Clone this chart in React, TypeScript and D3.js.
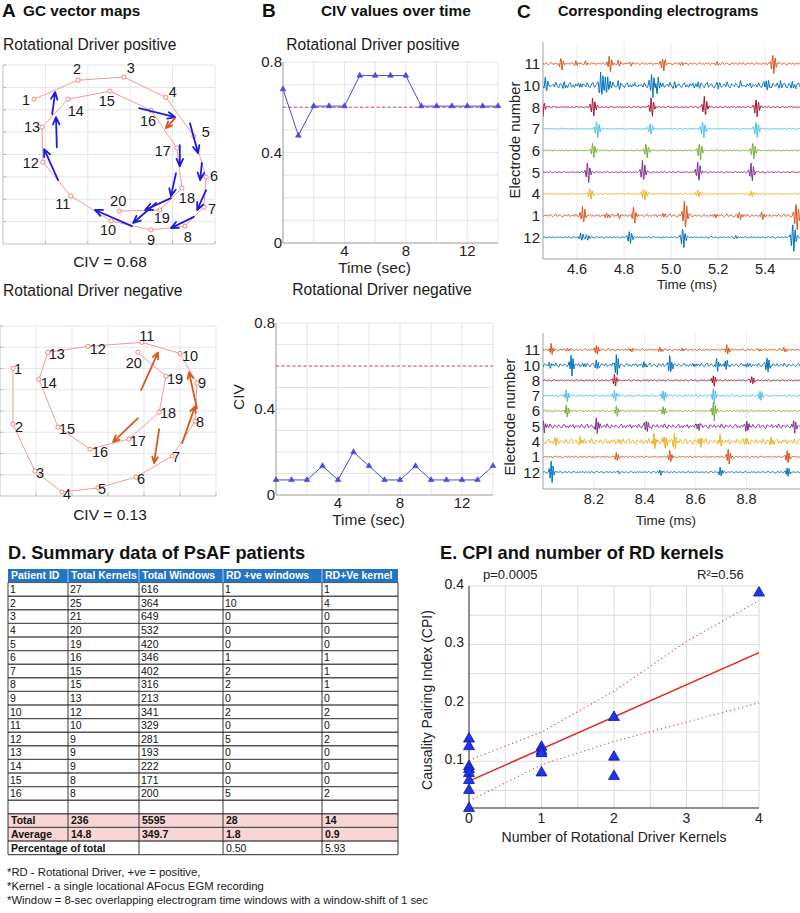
import React from 'react';
import * as d3 from 'd3';

const FONT = '"Liberation Sans", Arial, Helvetica, sans-serif';

/* ---------------- Panel A : GC vector maps ---------------- */
const electrodeIds = d3.range(1, 21);
// Rotational Driver positive – electrode positions (grid units)
const posX = [0.73, 1.77, 2.85, 3.84, 4.5, 4.79, 4.74, 4.29, 3.49, 2.55, 1.6, 0.94, 0.92, 1.53, 2.52, 3.49, 4.1, 4.22, 3.7, 2.74];
const posY = [6.47, 7.32, 7.46, 6.56, 4.82, 2.99, 1.65, 0.8, 0.63, 1.03, 2.14, 3.66, 5.22, 6.47, 6.83, 5.98, 4.29, 2.5, 1.52, 1.47];
// GC vectors [x1, y1, x2, y2]
const posBlueVectors = [
  [1.16, 5.8, 1.23, 6.79], [1.27, 4.33, 1.25, 5.67], [1.3, 2.86, 0.97, 4.24], [3.21, 6.07, 4.06, 5.67],
  [4.41, 5.4, 4.6, 4.06], [4.17, 4.42, 4.17, 3.48], [4.69, 3.62, 4.65, 2.86], [4.08, 3.17, 3.96, 2.14],
  [3.96, 2.05, 3.35, 1.52], [3.61, 1.83, 3.07, 0.94], [3.04, 0.8, 2.17, 1.52], [4.79, 2.41, 4.58, 1.52],
  [4.5, 1.21, 3.96, 0.71],
];
const posOrangeVectors = [[4.06, 5.63, 3.84, 5.18]];
// Rotational Driver negative
const negX = [0.36, 0.36, 0.97, 1.72, 2.72, 3.78, 4.78, 5.42, 5.47, 5.0, 3.94, 2.44, 1.33, 1.08, 1.61, 2.5, 3.58, 4.42, 4.61, 3.83];
const negY = [6.01, 3.38, 1.17, 0.19, 0.38, 0.89, 1.88, 3.52, 5.31, 6.71, 7.23, 7.04, 6.76, 5.49, 3.24, 2.21, 2.68, 3.94, 5.63, 6.76];
const negOrangeVectors = [
  [3.92, 4.98, 4.39, 6.76], [3.83, 3.66, 3.14, 2.54], [4.42, 3.15, 4.28, 1.55],
  [5.06, 2.49, 5.42, 4.23], [5.47, 4.13, 5.25, 5.82],
];
const civPosText = 'CIV = 0.68';
const civNegText = 'CIV = 0.13';

// label placement (px offsets from the electrode marker)
const posLabelOff = [[-8, 1], [-1, -11], [7, -9], [7, -5], [12, -4], [8, -1], [8, 2], [3, 11], [0, 10], [-3, 9], [-8, 8], [-12, 1], [-10, 0], [8, 12], [-3, 10], [-3, 11], [-14, 3], [5, 10], [2, 8], [-1, -10]];
const negLabelOff = [[5, 0], [6, 3], [5, 2], [5, 2], [4, 1], [5, 2], [4, 1], [5, 1], [5, 0], [10, 2], [5, -7], [10, 2], [9, 1], [10, 3], [9, 2], [10, 3], [9, 2], [9, 1], [9, 2], [-4, 10]];

/* ---------------- Panel B : CIV over time ---------------- */
const timeSec = d3.range(0, 15);
const civPositive = [0.68, 0.475, 0.605, 0.605, 0.605, 0.74, 0.74, 0.74, 0.74, 0.605, 0.605, 0.605, 0.605, 0.605, 0.605];
const civNegative = [0.07, 0.07, 0.07, 0.135, 0.07, 0.2, 0.135, 0.07, 0.07, 0.135, 0.07, 0.07, 0.07, 0.07, 0.135];
const civThreshold = 0.6;
const civYTicks = [0, 0.4, 0.8];
const civXTicks = [4, 8, 12];

/* ---------------- Panel C : electrograms ---------------- */
const electrodes = ['11', '10', '8', '7', '6', '5', '4', '1', '12'];
const egmColors = ['#D95319', '#0072BD', '#A2142F', '#4DBEEE', '#77AC30', '#7E2F8E', '#EDB120', '#D95319', '#0072BD'];
// deflection events [time, amplitude] per electrode (top window)
const egmTopEvents: number[][][] = [
  [[4.536, 0.3], [4.6, 0.12], [4.64, 0.1], [4.742, 0.4], [4.78, 0.15], [4.83, 0.1], [4.969, 0.35], [5.05, 0.1], [5.2, 0.08], [5.437, 0.55]],
  [[4.47, 0.35], [4.55, 0.15], [4.62, 0.15], [4.705, 0.7], [4.73, -0.5], [4.78, 0.2], [4.85, 0.15], [4.922, 0.7], [4.945, -0.4], [5.02, 0.15], [5.12, 0.15], [5.2, 0.15], [5.3, 0.15], [5.409, 0.3], [5.47, 0.2], [5.52, 0.2]],
  [[4.455, 0.4], [4.671, 0.5], [4.92, 0.5], [5.146, 0.5], [5.366, 0.5]],
  [[4.688, 0.45], [4.915, 0.3], [5.139, 0.45], [5.366, 0.45]],
  [[4.671, 0.4], [4.898, 0.35], [5.125, 0.45], [5.352, 0.45]],
  [[4.649, 0.5], [4.883, 0.55], [5.118, 0.5], [5.345, 0.5]],
  [[4.659, 0.3], [4.888, 0.3], [5.118, 0.2], [5.345, 0.15]],
  [[4.628, 0.45], [4.73, 0.15], [4.78, 0.12], [4.845, 0.4], [4.97, 0.15], [5.061, 0.75], [5.19, 0.15], [5.295, 0.2], [5.39, 0.15], [5.536, 0.75]],
  [[4.62, 0.2], [4.645, 0.15], [4.827, 0.35], [5.054, 0.5], [5.28, 0.08], [5.522, 0.75]],
];
const egmTopNoise = [0.06, 0.15, 0.04, 0.03, 0.03, 0.04, 0.04, 0.07, 0.04];
const egmBottomEvents: number[][][] = [
  [[8.036, 0.45], [8.1, 0.15], [8.213, 0.35], [8.35, 0.12], [8.463, 0.2], [8.55, 0.12], [8.726, 0.35], [8.85, 0.12], [8.95, 0.15]],
  [[8.029, 0.25], [8.114, 0.7], [8.16, 0.2], [8.213, 0.35], [8.292, 0.8], [8.4, 0.2], [8.502, 0.8], [8.6, 0.15], [8.686, 0.5], [8.72, 0.3], [8.8, 0.2], [8.884, 0.7]],
  [[8.285, 0.55], [8.673, 0.4], [8.824, 0.4]],
  [[8.095, 0.45], [8.285, 0.5], [8.476, 0.6], [8.673, 0.6], [8.857, 0.4]],
  [[8.095, 0.45], [8.292, 0.35], [8.476, 0.45], [8.673, 0.7]],
  [[8.005, 0.45], [8.213, 0.55], [8.41, 0.45], [8.614, 0.3], [8.805, 0.5], [8.989, 0.5]],
  [[8.05, 0.3], [8.15, 0.25], [8.3, 0.2], [8.44, 0.6], [8.48, 0.6], [8.52, 0.5], [8.621, 0.35], [8.7, 0.4], [8.8, 0.3], [8.9, 0.3]],
  [[8.292, 0.3], [8.502, 0.55], [8.732, 0.7], [8.963, 0.45]],
  [[8.036, 0.9], [8.3, 0.12], [8.463, 0.25], [8.7, 0.35], [8.963, 0.35]],
];
const egmBottomNoise = [0.08, 0.14, 0.06, 0.08, 0.07, 0.16, 0.2, 0.06, 0.07];
const egmTopTicks = [4.6, 4.8, 5.0, 5.2, 5.4];
const egmBottomTicks = [8.2, 8.4, 8.6, 8.8];
// baseline-noise texture and deflection shape
const NOISE = [0.3, -0.5, 0.8, -0.2, -0.7, 0.4, 0.9, -0.6, 0.1, 0.5, -0.4, -0.9, 0.6, 0.2, -0.3, 0.7, -0.6, 0.0, 0.4, -0.5, 1.0, -0.3, -0.8, 0.5, 0.1, -0.4, 0.6, -0.1, -0.7, 0.3, 0.8, -0.5, 0.2, -0.6, 0.5, -0.2, 0.7, -0.8, 0.3, -0.1];
const SPIKE = [0, 0.25, -0.55, 1, -1, 0.6, -0.3, 0.12, 0];

/* ---------------- Panel D : table ---------------- */
const tableHeader = ['Patient ID', 'Total Kernels', 'Total Windows', 'RD +ve windows', 'RD+Ve kernel'];
const patientIds = ['1', '2', '3', '4', '5', '6', '7', '8', '9', '10', '11', '12', '13', '14', '15', '16'];
const totalKernels = [27, 25, 21, 20, 19, 16, 15, 15, 13, 12, 10, 9, 9, 9, 8, 8];
const totalWindows = [616, 364, 649, 532, 420, 346, 402, 316, 213, 341, 329, 281, 193, 222, 171, 200];
const rdWindows = [1, 10, 0, 0, 0, 1, 2, 2, 0, 2, 0, 5, 0, 0, 0, 5];
const rdKernels = [1, 4, 0, 0, 0, 1, 1, 1, 0, 2, 0, 2, 0, 0, 0, 2];
const totalRow = ['Total', '236', '5595', '28', '14'];
const averageRow = ['Average', '14.8', '349.7', '1.8', '0.9'];
const percentRow = ['Percentage of total', '', '0.50', '5.93'];
const footnotes = [
  '*RD - Rotational Driver, +ve = positive,',
  '*Kernel - a single locational AFocus  EGM recording',
  '*Window = 8-sec overlapping electrogram time windows with a window-shift of 1 sec',
];

/* ---------------- Panel E : CPI vs RD kernels ---------------- */
const rdKernelCount = [0, 0, 0, 0, 0, 0, 0, 0, 1, 1, 1, 1, 2, 2, 2, 4];
const cpiValues = [0.14, 0.127, 0.093, 0.088, 0.081, 0.069, 0.052, 0.021, 0.126, 0.119, 0.115, 0.082, 0.177, 0.109, 0.076, 0.39];
const fitX = [0, 4];
const fitY = [0.066, 0.286];
const ciX = [0, 1, 2, 3, 4];
const ciUpper = [0.102, 0.15, 0.22, 0.305, 0.375];
const ciLower = [0.032, 0.094, 0.134, 0.167, 0.2];
const cpiYTicks = [0.1, 0.2, 0.3, 0.4];
const cpiXTicks = [0, 1, 2, 3, 4];

/* ================= components ================= */
function Arrow({ x1, y1, x2, y2, color, width, head }: any) {
  const a = Math.atan2(y2 - y1, x2 - x1);
  const a1 = a + Math.PI - 0.42, a2 = a + Math.PI + 0.42;
  const d = `M${x1},${y1}L${x2},${y2}M${x2 + head * Math.cos(a1)},${y2 + head * Math.sin(a1)}L${x2},${y2}L${x2 + head * Math.cos(a2)},${y2 + head * Math.sin(a2)}`;
  return <path d={d} stroke={color} strokeWidth={width} fill="none" strokeLinecap="round" strokeLinejoin="round" />;
}

function GCMap({ xs, ys, offs, xScale, yScale, nx, ny, blue, orange, caption, captionY }: any) {
  const [x0, x1] = xScale.range();
  const [yb, yt] = yScale.range();
  const line = d3.line<number>().x((_, i) => xScale(xs[i])).y((_, i) => yScale(ys[i]));
  return (
    <g>
      {d3.range(1, nx + 1).map((i) => (
        <line key={'gx' + i} x1={xScale(i)} x2={xScale(i)} y1={yb} y2={yt} stroke="#e6e6e6" />
      ))}
      {d3.range(1, ny + 1).map((i) => (
        <line key={'gy' + i} x1={x0} x2={x1} y1={yScale(i)} y2={yScale(i)} stroke="#e6e6e6" />
      ))}
      <line x1={x0} x2={x0} y1={yb} y2={yt} stroke="#c2c2c2" />
      <line x1={x0} x2={x1} y1={yb} y2={yb} stroke="#c2c2c2" />
      {d3.range(1, ny + 1).map((i) => (
        <line key={'ty' + i} x1={x0} x2={x0 + 3} y1={yScale(i)} y2={yScale(i)} stroke="#b8b8b8" />
      ))}
      {d3.range(1, nx + 1).map((i) => (
        <line key={'tx' + i} x1={xScale(i)} x2={xScale(i)} y1={yb} y2={yb - 3} stroke="#b8b8b8" />
      ))}
      <path d={line(xs) || ''} fill="none" stroke="#f39a9a" strokeWidth={1} />
      {xs.map((x: number, i: number) => (
        <circle key={'p' + i} cx={xScale(x)} cy={yScale(ys[i])} r={2.1} fill="#fff" stroke="#ec7878" strokeWidth={0.9} />
      ))}
      {electrodeIds.map((id, i) => (
        <text key={'l' + i} x={xScale(xs[i]) + offs[i][0]} y={yScale(ys[i]) + offs[i][1]} dy="0.36em" textAnchor="middle" fontSize={14.5} fill="#1a1a1a">
          {id}
        </text>
      ))}
      {blue.map((v: number[], i: number) => (
        <Arrow key={'b' + i} x1={xScale(v[0])} y1={yScale(v[1])} x2={xScale(v[2])} y2={yScale(v[3])} color="#1c1ce0" width={1.8} head={8} />
      ))}
      {orange.map((v: number[], i: number) => (
        <Arrow key={'o' + i} x1={xScale(v[0])} y1={yScale(v[1])} x2={xScale(v[2])} y2={yScale(v[3])} color="#d9581c" width={1.8} head={7} />
      ))}
      <text x={110} y={captionY} textAnchor="middle" fontSize={15.5} fill="#1a1a1a">{caption}</text>
    </g>
  );
}

function CivPlot({ values, xScale, yScale, ylabel }: any) {
  const [x0, x1] = xScale.range();
  const [yb, yt] = yScale.range();
  const line = d3.line<number>().x((_, i) => xScale(timeSec[i])).y((v) => yScale(v));
  const tri = d3.symbol(d3.symbolTriangle, 14)() || '';
  return (
    <g>
      {d3.range(2, 15, 2).map((t) => (
        <line key={'gx' + t} x1={xScale(t)} x2={xScale(t)} y1={yb} y2={yt} stroke="#e4e4e4" />
      ))}
      {d3.range(1, 9).map((k) => (
        <line key={'gy' + k} x1={x0} x2={x1} y1={yScale(k / 10)} y2={yScale(k / 10)} stroke="#e4e4e4" />
      ))}
      <line x1={x0} x2={x0} y1={yb} y2={yt} stroke="#9a9a9a" />
      <line x1={x0} x2={x1} y1={yb} y2={yb} stroke="#9a9a9a" />
      {civYTicks.map((t) => (
        <text key={'yt' + t} x={x0 - 1} y={yScale(t)} dy="0.36em" textAnchor="end" fontSize={15} fill="#222">
          {t === 0 ? '0' : d3.format('.1f')(t)}
        </text>
      ))}
      {civXTicks.map((t) => (
        <text key={'xt' + t} x={xScale(t)} y={yb + 13} textAnchor="middle" fontSize={15} fill="#222">
          {t}
        </text>
      ))}
      <line x1={x0} x2={x1} y1={yScale(civThreshold)} y2={yScale(civThreshold)} stroke="#e0456e" strokeWidth={1} strokeDasharray="3,2.5" />
      <path d={line(values) || ''} fill="none" stroke="#4848e4" strokeWidth={1} />
      {values.map((v: number, i: number) => (
        <path key={'m' + i} d={tri} transform={`translate(${xScale(timeSec[i])},${yScale(v)})`} fill="#4848e4" stroke="#4848e4" strokeWidth={0.6} />
      ))}
      <text x={(x0 + x1) / 2 - 16} y={yb + 30} textAnchor="middle" fontSize={15.5} fill="#222">Time (sec)</text>
      {ylabel && (
        <text transform={`translate(${x0 - 32},${(yb + yt) / 2 - 12}) rotate(-90)`} textAnchor="middle" fontSize={15.5} fill="#222">{ylabel}</text>
      )}
    </g>
  );
}

function egmPath(events: number[][], noise: number, phase: number, xScale: any, yBase: number, spacing: number, dur: number) {
  const [d0, d1] = xScale.domain();
  const n = 540;
  const pts: [number, number][] = [];
  const L = SPIKE.length - 1;
  for (let i = 0; i <= n; i++) {
    const t = d0 + ((d1 - d0) * i) / n;
    const kk = i / 3 + phase;
    const k = Math.floor(kk), f = kk - k;
    let v = noise * (NOISE[k % NOISE.length] * (1 - f) + NOISE[(k + 1) % NOISE.length] * f);
    for (const [te, a] of events) {
      const u = ((t - te) / dur + 0.5) * L;
      if (u >= 0 && u <= L) {
        const j = Math.floor(u), g = u - j;
        v += a * (SPIKE[j] * (1 - g) + SPIKE[Math.min(j + 1, L)] * g);
      }
    }
    pts.push([xScale(t), yBase - v * spacing]);
  }
  return d3.line()(pts) || '';
}

function EGMPlot({ events, noise, xScale, yScale, ticks, dur, ylabelPos, xlabelPos, id }: any) {
  const [x0, x1] = xScale.range();
  const [yt, yb] = yScale.range();
  const step = yScale.step();
  return (
    <g>
      <defs>
        <clipPath id={id}>
          <rect x={x0} y={yt - 10} width={x1 - x0} height={yb - yt + 10} />
        </clipPath>
      </defs>
      {ticks.map((t: number) => (
        <line key={'g' + t} x1={xScale(t)} x2={xScale(t)} y1={yt} y2={yb} stroke="#ececec" />
      ))}
      <line x1={x0} x2={x0} y1={yt} y2={yb} stroke="#a0a0a0" />
      <line x1={x0} x2={x1} y1={yb} y2={yb} stroke="#a0a0a0" />
      <g clipPath={`url(#${id})`}>
        {electrodes.map((e, i) => (
          <path key={e} d={egmPath(events[i], noise[i], i * 11, xScale, yScale(e), step, dur)} fill="none" stroke={egmColors[i]} strokeWidth={1} />
        ))}
      </g>
      {electrodes.map((e) => (
        <text key={'yl' + e} x={x0 - 3} y={yScale(e)} dy="0.36em" textAnchor="end" fontSize={15} fill="#222">{e}</text>
      ))}
      {ticks.map((t: number) => (
        <text key={'xl' + t} x={xScale(t)} y={yb + 15} textAnchor="middle" fontSize={14.5} fill="#222">{d3.format('.1f')(t)}</text>
      ))}
      <text transform={`translate(${ylabelPos[0]},${ylabelPos[1]}) rotate(-90)`} textAnchor="middle" fontSize={14.8} fill="#222">Electrode number</text>
      <text x={xlabelPos[0]} y={xlabelPos[1]} textAnchor="middle" fontSize={13.5} fill="#222">Time (ms)</text>
    </g>
  );
}

function SummaryTable() {
  const colX = [8, 68, 139, 223, 322, 398];
  const top = 569;
  const rh = 13.6;
  const dataRows = patientIds.map((p, i) => [p, String(totalKernels[i]), String(totalWindows[i]), String(rdWindows[i]), String(rdKernels[i])]);
  const nRows = 21;
  const rowTop = (r: number) => top + r * rh;
  const cells: any[] = [];
  tableHeader.forEach((h, c) => cells.push(
    <text key={'h' + c} x={colX[c] + 3} y={rowTop(0) + 10.3} fontSize={10.5} fontWeight="bold" fill="#fff">{h}</text>
  ));
  dataRows.forEach((row, r) => row.forEach((v, c) => cells.push(
    <text key={`d${r}-${c}`} x={colX[c] + 2} y={rowTop(r + 1) + 10.6} fontSize={10.5} fill="#111">{v}</text>
  )));
  [totalRow, averageRow].forEach((row, k) => row.forEach((v, c) => cells.push(
    <text key={`t${k}-${c}`} x={colX[c] + 3} y={rowTop(18 + k) + 10.6} fontSize={10.5} fontWeight="bold" fill="#111">{v}</text>
  )));
  const pCols = [0, 2, 3, 4];
  percentRow.forEach((v, k) => cells.push(
    <text key={'p' + k} x={colX[pCols[k]] + 3} y={rowTop(20) + 10.6} fontSize={10.5} fontWeight={k === 0 ? 'bold' : 'normal'} fill="#111">{v}</text>
  ));
  return (
    <g>
      <rect x={colX[0]} y={rowTop(0)} width={colX[5] - colX[0]} height={rh} fill="#2474c6" />
      <rect x={colX[0]} y={rowTop(18)} width={colX[5] - colX[0]} height={rh * 2} fill="#f8d6d6" />
      {d3.range(1, nRows + 1).map((r) => (
        <line key={'hl' + r} x1={colX[0]} x2={colX[5]} y1={rowTop(r)} y2={rowTop(r)} stroke="#555" strokeWidth={r === 1 ? 1 : 1.4} />
      ))}
      {colX.map((x, c) => (
        <line key={'vl' + c} x1={x} x2={x} y1={rowTop(1)} y2={rowTop(c === 1 ? 20 : nRows)} stroke="#222" strokeWidth={0.9} />
      ))}
      {colX.slice(1, 5).map((x, c) => (
        <line key={'hv' + c} x1={x} x2={x} y1={rowTop(0)} y2={rowTop(1)} stroke="#cfe0f3" strokeWidth={0.8} />
      ))}
      {cells}
    </g>
  );
}

function CpiPlot() {
  const x = d3.scaleLinear().domain([0, 4]).range([469, 759]);
  const y = d3.scaleLinear().domain([0.02, 0.4]).range([808, 586]);
  const tri = d3.symbol(d3.symbolTriangle, 52)() || '';
  const fitLine = d3.line<number>().x((_, i) => x(fitX[i])).y((v) => y(v));
  const ciLine = d3.line<number>().x((_, i) => x(ciX[i])).y((v) => y(v));
  return (
    <g>
      {d3.range(1, 9).map((k) => (
        <line key={'gx' + k} x1={x(k / 2)} x2={x(k / 2)} y1={y(0.02)} y2={y(0.4)} stroke="#dcdcdc" />
      ))}
      {d3.range(1, 8).map((k) => (
        <line key={'gy' + k} x1={x(0)} x2={x(4)} y1={y(k * 0.05)} y2={y(k * 0.05)} stroke="#dcdcdc" />
      ))}
      <line x1={x(0)} x2={x(4)} y1={y(0.4)} y2={y(0.4)} stroke="#dcdcdc" />
      <line x1={x(0)} x2={x(0)} y1={y(0.02)} y2={y(0.4)} stroke="#222" strokeWidth={1} />
      <line x1={x(0)} x2={x(4)} y1={y(0.02)} y2={y(0.02)} stroke="#222" strokeWidth={1} />
      {cpiYTicks.map((t) => (
        <text key={'yt' + t} x={x(0) - 5} y={y(t)} dy="0.2em" textAnchor="end" fontSize={14} fill="#222">{d3.format('.1f')(t)}</text>
      ))}
      {cpiXTicks.map((t) => (
        <text key={'xt' + t} x={x(t)} y={y(0.02) + 15} textAnchor="middle" fontSize={14} fill="#222">{t}</text>
      ))}
      <path d={ciLine(ciUpper) || ''} fill="none" stroke="#e05050" strokeWidth={1.2} strokeDasharray="1.2,3" />
      <path d={ciLine(ciLower) || ''} fill="none" stroke="#e05050" strokeWidth={1.2} strokeDasharray="1.2,3" />
      <path d={fitLine(fitY) || ''} fill="none" stroke="#e82020" strokeWidth={1.5} />
      {cpiValues.map((v, i) => (
        <path key={'m' + i} d={tri} transform={`translate(${x(rdKernelCount[i])},${y(v) + 1})`} fill="#1e34ee" stroke="#0c1a9c" strokeWidth={0.8} />
      ))}
      <text x={483} y={579} fontSize={13} fill="#222">p=0.0005</text>
      <text x={697} y={579} fontSize={13} fill="#222">R²=0.56</text>
      <text transform={`translate(432,${(y(0.02) + y(0.4)) / 2 + 3}) rotate(-90)`} textAnchor="middle" fontSize={14} fill="#222">Causality Pairing Index (CPI)</text>
      <text x={x(2)} y={y(0.02) + 34} textAnchor="middle" fontSize={14} fill="#222">Number of Rotational Driver Kernels</text>
    </g>
  );
}

export default function App() {
  const aTopX = d3.scaleLinear().domain([0, 5]).range([3, 215]);
  const aTopY = d3.scaleLinear().domain([0, 8]).range([244, 65]);
  const aBotX = d3.scaleLinear().domain([0, 6]).range([0, 216]);
  const aBotY = d3.scaleLinear().domain([0, 8]).range([496, 326]);
  const bTopX = d3.scaleLinear().domain([0, 14]).range([283, 498]);
  const bTopY = d3.scaleLinear().domain([0, 0.8]).range([243, 62]);
  const bBotX = d3.scaleLinear().domain([0, 14]).range([276, 493]);
  const bBotY = d3.scaleLinear().domain([0, 0.8]).range([495, 323]);
  const cTopX = d3.scaleLinear().domain([4.455, 5.548]).range([543, 800]);
  const cTopY = d3.scalePoint<string>().domain(electrodes).range([42, 259]).padding(1);
  const cBotX = d3.scaleLinear().domain([8.0, 9.01]).range([543, 800]);
  const cBotY = d3.scalePoint<string>().domain(electrodes).range([333, 489]).padding(1.1);

  return (
    <svg width={800} height={913} style={{ position: 'absolute', left: 0, top: 0, background: '#fff' }} fontFamily={FONT}>
      <rect width={800} height={913} fill="#fff" />

      {/* Panel A */}
      <text x={2} y={17} fontSize={19} fontWeight="bold" fill="#111">A</text>
      <text x={23} y={16} fontSize={15.3} fontWeight="bold" fill="#111">GC vector maps</text>
      <text x={3} y={50} fontSize={15.6} fill="#1a1a1a">Rotational Driver positive</text>
      <GCMap xs={posX} ys={posY} offs={posLabelOff} xScale={aTopX} yScale={aTopY} nx={5} ny={8}
        blue={posBlueVectors} orange={posOrangeVectors} caption={civPosText} captionY={267} />
      <text x={3} y={296} fontSize={15.6} fill="#1a1a1a">Rotational Driver negative</text>
      <GCMap xs={negX} ys={negY} offs={negLabelOff} xScale={aBotX} yScale={aBotY} nx={6} ny={8}
        blue={[]} orange={negOrangeVectors} caption={civNegText} captionY={520} />

      {/* Panel B */}
      <text x={262} y={17} fontSize={19} fontWeight="bold" fill="#111">B</text>
      <text x={321} y={16} fontSize={15.3} fontWeight="bold" fill="#111">CIV values over time</text>
      <text x={373} y={50} textAnchor="middle" fontSize={15.6} fill="#1a1a1a">Rotational Driver positive</text>
      <CivPlot values={civPositive} xScale={bTopX} yScale={bTopY} />
      <text x={382} y={295} textAnchor="middle" fontSize={15.6} fill="#1a1a1a">Rotational Driver negative</text>
      <CivPlot values={civNegative} xScale={bBotX} yScale={bBotY} ylabel="CIV" />

      {/* Panel C */}
      <text x={517} y={18} fontSize={19} fontWeight="bold" fill="#111">C</text>
      <text x={558} y={16} fontSize={14.6} fontWeight="bold" fill="#111">Corresponding electrograms</text>
      <EGMPlot id="clipTop" events={egmTopEvents} noise={egmTopNoise} xScale={cTopX} yScale={cTopY} ticks={egmTopTicks}
        dur={0.04} ylabelPos={[520, 140]} xlabelPos={[687, 289]} />
      <EGMPlot id="clipBot" events={egmBottomEvents} noise={egmBottomNoise} xScale={cBotX} yScale={cBotY} ticks={egmBottomTicks}
        dur={0.03} ylabelPos={[515, 417]} xlabelPos={[666, 525]} />

      {/* Panel D */}
      <text x={8} y={559} fontSize={18.2} fontWeight="bold" fill="#111">D. Summary data of PsAF patients</text>
      <SummaryTable />
      {footnotes.map((f, i) => (
        <text key={'fn' + i} x={7} y={876 + i * 13.8} fontSize={11.3} fill="#1a1a1a">{f}</text>
      ))}

      {/* Panel E */}
      <text x={440} y={559} fontSize={18.2} fontWeight="bold" fill="#111">E. CPI and number of RD kernels</text>
      <CpiPlot />
    </svg>
  );
}
